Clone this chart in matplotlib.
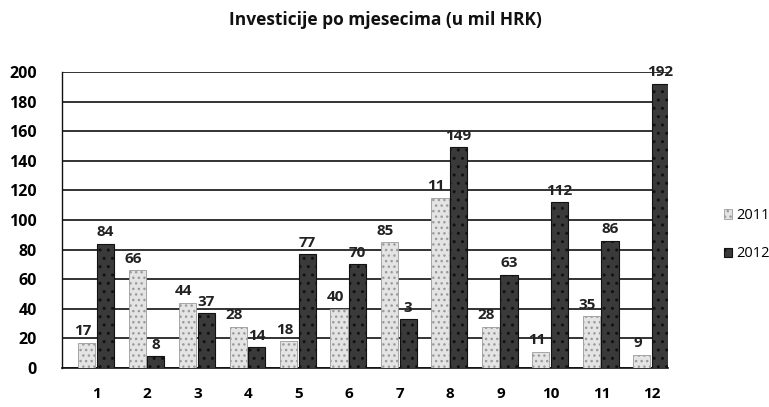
import matplotlib
matplotlib.use("Agg")
import matplotlib.pyplot as plt
import numpy as np

months = ["1", "2", "3", "4", "5", "6", "7", "8", "9", "10", "11", "12"]
v2011 = [17, 66, 44, 28, 18, 40, 85, 115, 28, 11, 35, 9]
v2012 = [84, 8, 37, 14, 77, 70, 33, 149, 63, 112, 86, 192]
labels2011 = ["17", "66", "44", "28", "18", "40", "85", "11", "28", "11", "35", "9"]
labels2012 = ["84", "8", "37", "14", "77", "70", "3", "149", "63", "112", "86", "192"]
yticks = [0, 20, 40, 60, 80, 100, 120, 140, 160, 180, 200]
title = "Investicije po mjesecima (u mil HRK)"
series_names = ["2011", "2012"]

plt.rcParams['font.family'] = ['Open Sans', 'DejaVu Sans']
plt.rcParams['hatch.linewidth'] = 1.0

fig = plt.figure(figsize=(7.69, 4.07), dpi=100)
ax = fig.add_axes([62/769, 1-368/407, (668-62)/769, (368-72)/407])

x = np.arange(1, len(months) + 1)
w = 0.34
b1 = ax.bar(x - w/2 - 0.03, v2011, w, color="#e4e4e4", edgecolor="#9a9a9a",
            hatch="...", linewidth=0.6, zorder=3, label=series_names[0])
b2 = ax.bar(x + w/2 - 0.0, v2012, w, color="#3a3a3a", edgecolor="#111111",
            hatch="..", linewidth=0.8, zorder=3, label=series_names[1])

for xi, v, t in zip(x - w/2 - 0.03, v2011, labels2011):
    ax.text(xi - 0.08, v + 3, t, ha="center", va="bottom", fontsize=11,
            fontweight="bold", color="#222222", zorder=4)
for xi, v, t in zip(x + w/2, v2012, labels2012):
    ax.text(xi, v + 3, t, ha="center", va="bottom", fontsize=11,
            fontweight="bold", color="#222222", zorder=4)

ax.set_ylim(0, 200)
ax.set_xlim(0.31, 12.32)
ax.set_yticks(yticks)
ax.set_yticklabels([str(t) for t in yticks], fontsize=11.5, fontweight="bold")
ax.set_xticks(x)
ax.set_xticklabels(months, fontsize=11, fontweight="bold")
ax.tick_params(length=0, pad=14, axis="x")
ax.tick_params(length=0, pad=18, axis="y")
ax.yaxis.grid(True, color="#111111", linewidth=1.2, zorder=0)
ax.set_axisbelow(True)
for s in ["top", "right"]:
    ax.spines[s].set_visible(False)
ax.spines["left"].set_color("#111111")
ax.spines["bottom"].set_color("#111111")
ax.spines["left"].set_linewidth(1.0)
ax.spines["bottom"].set_linewidth(1.2)

fig.text(385/769, 1-20/407, title, ha="center", va="center", fontsize=12.5,
         fontweight="bold", color="#111111")

ax.legend(handles=[b1, b2], loc="center left", bbox_to_anchor=(1.07, 0.45),
          frameon=False, fontsize=10.5, handlelength=0.6, handleheight=0.6,
          labelspacing=1.6, handletextpad=0.3)

fig.savefig("out.png", dpi=100)
